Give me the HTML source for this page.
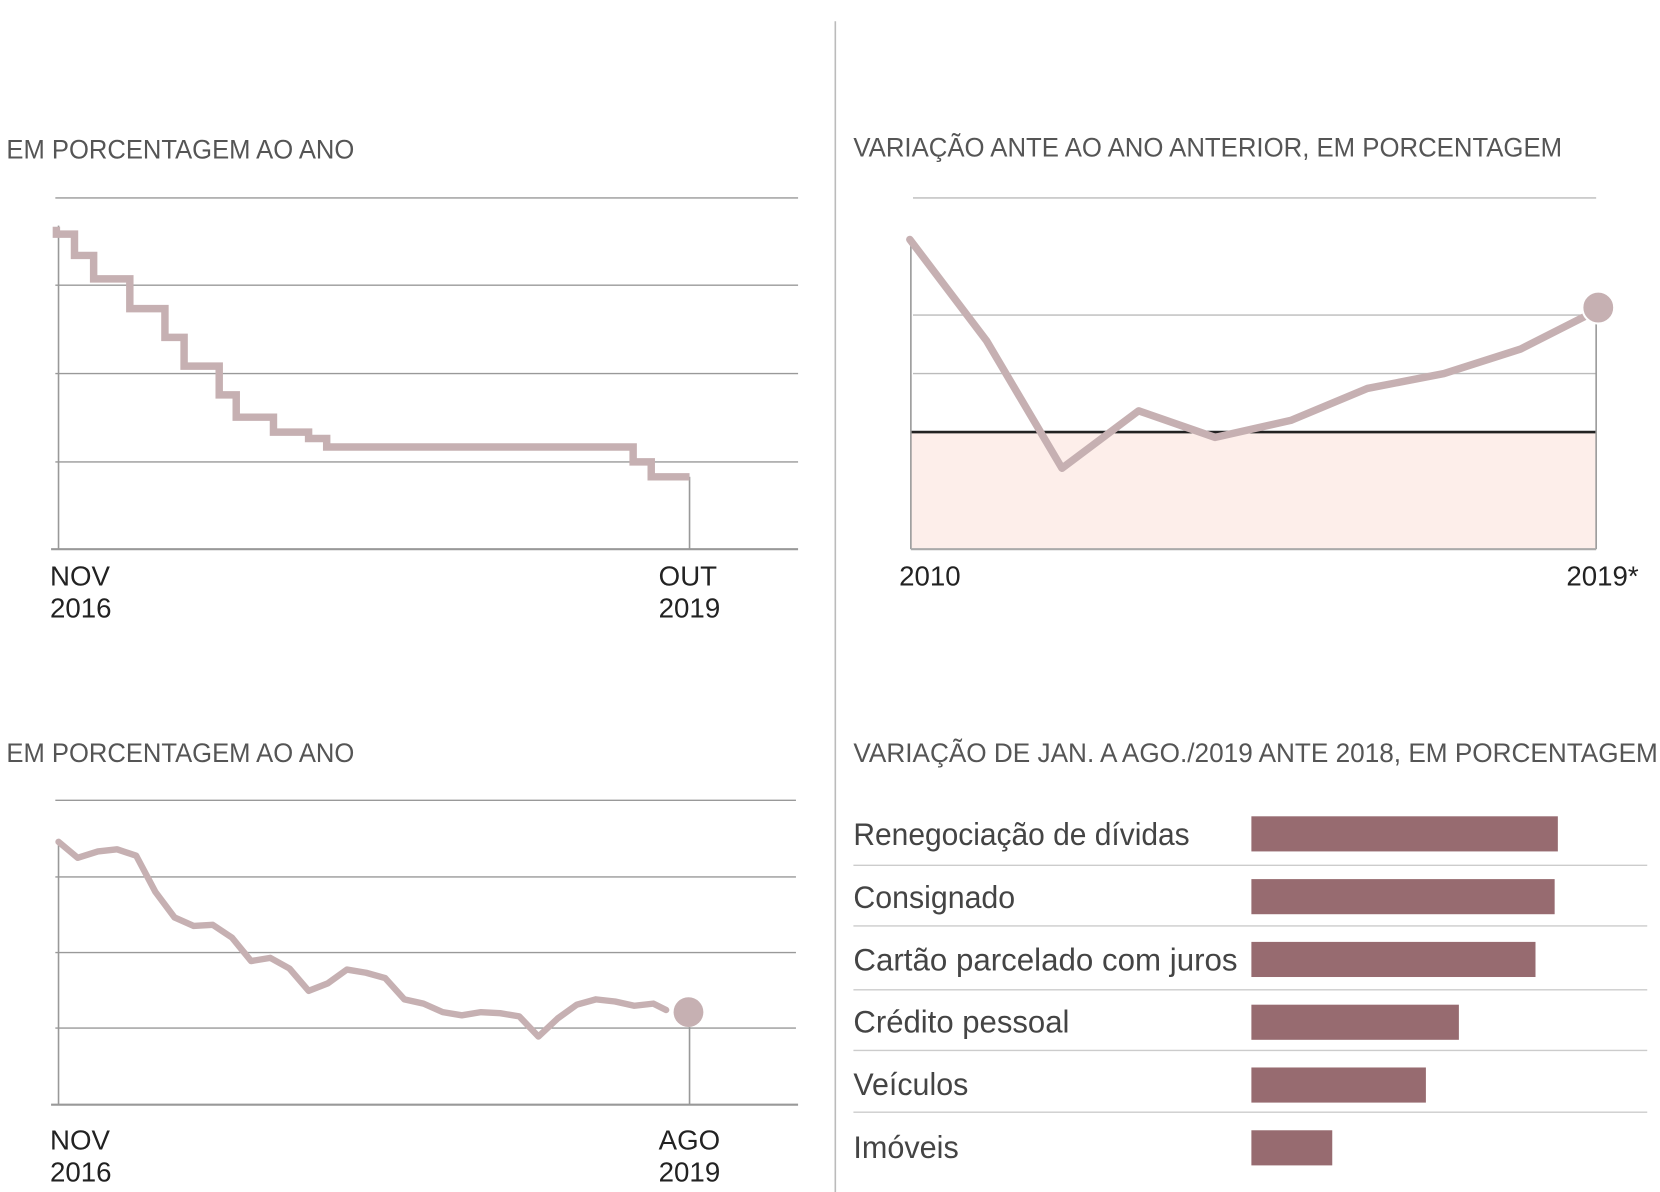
<!DOCTYPE html>
<html><head><meta charset="utf-8"><style>
html,body{margin:0;padding:0;background:#fff;}
svg{display:block;}
text{font-family:"Liberation Sans Narrow","Liberation Sans",sans-serif;}
.t{fill:#555;font-size:25px;}
.l{fill:#222;font-size:26px;}
.b{fill:#444;font-size:30px;}
</style></head><body>
<svg width="1660" height="1192" viewBox="0 0 1560 1120" preserveAspectRatio="none" xmlns="http://www.w3.org/2000/svg">
<line x1="785" y1="20" x2="785" y2="1125" stroke="#bbb" stroke-width="1.5"/>

<!-- Chart 1 -->
<text class="t" x="6" y="149" textLength="327" lengthAdjust="spacingAndGlyphs">EM PORCENTAGEM AO ANO</text>
<g stroke="#999" stroke-width="1.3">
<line x1="52" y1="186" x2="750" y2="186"/>
<line x1="52" y1="268" x2="750" y2="268"/>
<line x1="52" y1="351" x2="750" y2="351"/>
<line x1="52" y1="434" x2="750" y2="434"/>
</g>
<line x1="55" y1="212" x2="55" y2="516" stroke="#999" stroke-width="1.5"/>
<line x1="648" y1="448" x2="648" y2="516" stroke="#999" stroke-width="1.5"/>
<line x1="48" y1="516" x2="750" y2="516" stroke="#999" stroke-width="2"/>
<polyline fill="none" stroke="#c6b0b2" stroke-width="7" stroke-linejoin="miter" points="53,213 53,220 70,220 70,240 88,240 88,262 122,262 122,290 155,290 155,317 173,317 173,344 206,344 206,371 222,371 222,392 257,392 257,406 290,406 290,412 307,412 307,420 595,420 595,434 612,434 612,448 648,448"/>
<text class="l" x="47" y="550">NOV</text>
<text class="l" x="47" y="580">2016</text>
<text class="l" x="619" y="550">OUT</text>
<text class="l" x="619" y="580">2019</text>

<!-- Chart 2 -->
<text class="t" x="802" y="147" textLength="666" lengthAdjust="spacingAndGlyphs">VARIAÇÃO ANTE AO ANO ANTERIOR, EM PORCENTAGEM</text>
<rect x="856" y="406" width="644" height="110" fill="#fdeeea"/>
<g stroke="#bbb" stroke-width="1.3">
<line x1="858" y1="186" x2="1500" y2="186"/>
<line x1="858" y1="296" x2="1500" y2="296"/>
<line x1="858" y1="351" x2="1500" y2="351"/>
</g>
<line x1="856" y1="406" x2="1500" y2="406" stroke="#222" stroke-width="2.5"/>
<line x1="856" y1="225" x2="856" y2="516" stroke="#999" stroke-width="1.5"/>
<line x1="1500" y1="300" x2="1500" y2="516" stroke="#999" stroke-width="1.5"/>
<line x1="856" y1="516" x2="1500" y2="516" stroke="#aaa" stroke-width="2"/>
<polyline fill="none" stroke="#c6b0b2" stroke-width="7" stroke-linejoin="round" stroke-linecap="round" points="855,225 927,320 998,440 1070,386 1142,411 1213,395 1285,365 1357,351 1429,328 1492,296"/>
<circle cx="1502" cy="289" r="15" fill="#c6b0b2" stroke="#fff" stroke-width="2"/>
<text class="l" x="845" y="550">2010</text>
<text class="l" x="1472" y="550">2019*</text>

<!-- Chart 3 -->
<text class="t" x="6" y="716" textLength="327" lengthAdjust="spacingAndGlyphs">EM PORCENTAGEM AO ANO</text>
<g stroke="#999" stroke-width="1.3">
<line x1="52" y1="752" x2="748" y2="752"/>
<line x1="52" y1="824" x2="748" y2="824"/>
<line x1="52" y1="895" x2="748" y2="895"/>
<line x1="52" y1="966" x2="748" y2="966"/>
</g>
<line x1="55" y1="790" x2="55" y2="1038" stroke="#999" stroke-width="1.5"/>
<line x1="648" y1="965" x2="648" y2="1038" stroke="#999" stroke-width="1.5"/>
<line x1="48" y1="1038" x2="750" y2="1038" stroke="#999" stroke-width="2"/>
<polyline fill="none" stroke="#c6b0b2" stroke-width="6" stroke-linejoin="round" stroke-linecap="round" points="55,791 73,806 92,800 110,798 128,804 146,838 164,862 182,870 200,869 218,881 236,903 254,900 272,910 290,931 308,924 326,911 344,914 362,919 380,939 398,943 416,951 434,954 452,951 470,952 488,955 506,974 524,957 542,944 560,939 578,941 596,945 614,943 626,949"/>
<circle cx="647" cy="951" r="14" fill="#c6b0b2"/>
<text class="l" x="47" y="1080">NOV</text>
<text class="l" x="47" y="1110">2016</text>
<text class="l" x="619" y="1080">AGO</text>
<text class="l" x="619" y="1110">2019</text>

<!-- Chart 4 -->
<text class="t" x="802" y="716" textLength="756" lengthAdjust="spacingAndGlyphs">VARIAÇÃO DE JAN. A AGO./2019 ANTE 2018, EM PORCENTAGEM</text>
<g stroke="#ccc" stroke-width="1.3">
<line x1="802" y1="813" x2="1548" y2="813"/>
<line x1="802" y1="870" x2="1548" y2="870"/>
<line x1="802" y1="930" x2="1548" y2="930"/>
<line x1="802" y1="987" x2="1548" y2="987"/>
<line x1="802" y1="1045" x2="1548" y2="1045"/>
</g>
<g fill="#976b70">
<rect x="1176" y="767" width="288" height="33"/>
<rect x="1176" y="826" width="285" height="33"/>
<rect x="1176" y="885" width="267" height="33"/>
<rect x="1176" y="944" width="195" height="33"/>
<rect x="1176" y="1003" width="164" height="33"/>
<rect x="1176" y="1062" width="76" height="33"/>
</g>
<text class="b" x="802" y="794" textLength="316" lengthAdjust="spacingAndGlyphs">Renegociação de dívidas</text>
<text class="b" x="802" y="853" textLength="152" lengthAdjust="spacingAndGlyphs">Consignado</text>
<text class="b" x="802" y="912" textLength="361" lengthAdjust="spacingAndGlyphs">Cartão parcelado com juros</text>
<text class="b" x="802" y="970" textLength="203" lengthAdjust="spacingAndGlyphs">Crédito pessoal</text>
<text class="b" x="802" y="1029" textLength="108" lengthAdjust="spacingAndGlyphs">Veículos</text>
<text class="b" x="802" y="1088" textLength="99" lengthAdjust="spacingAndGlyphs">Imóveis</text>
</svg>
</body></html>
